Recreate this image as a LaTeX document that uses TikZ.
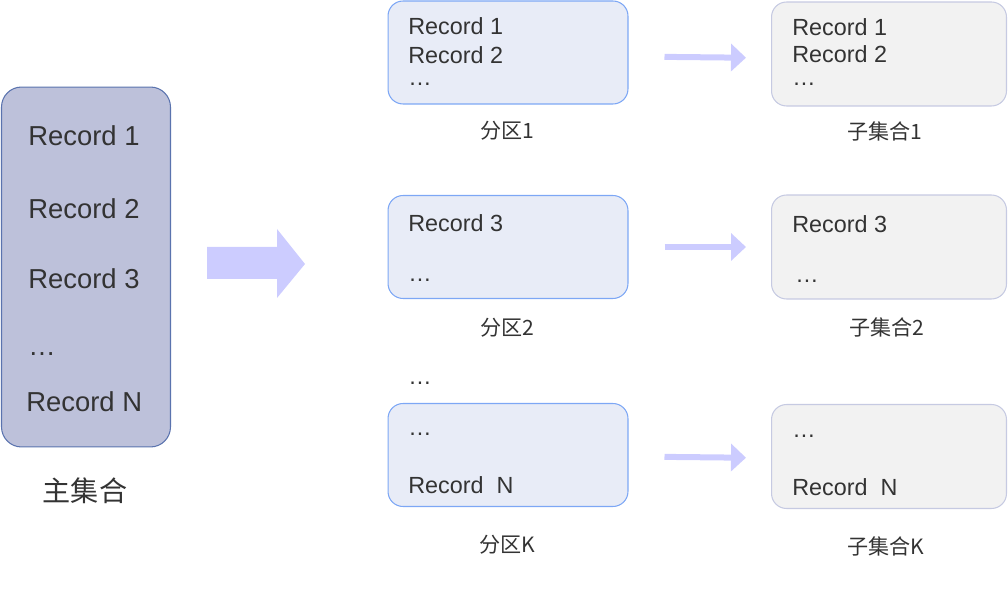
\documentclass[tikz,border=0pt]{standalone}
\usepackage{fontspec}
\setmainfont{Liberation Sans}
\newfontfamily\cjk{Noto Sans CJK SC}
\usetikzlibrary{arrows.meta}
\definecolor{mainfill}{HTML}{BDC1DA}
\definecolor{mainline}{HTML}{5A73AE}
\definecolor{partfill}{HTML}{E8ECF7}
\definecolor{partline}{HTML}{7DA7F5}
\definecolor{subfill}{HTML}{F2F2F2}
\definecolor{subline}{HTML}{C6CAE2}
\definecolor{flowcol}{HTML}{CCCCFF}
\definecolor{textgray}{HTML}{333333}
\begin{document}
\begin{tikzpicture}[x=0.02cm, y=-0.02cm,%
% common options for the boxes:
mainbox/.style = {draw=mainline, fill=mainfill, rounded corners=0.4cm,
            minimum width=3.38cm, minimum height=7.2cm, inner sep=0, line width=0.6pt},
partbox/.style = {draw=partline, fill=partfill, rounded corners=0.3cm,
            minimum width=4.8cm, minimum height=2.06cm, inner sep=0, line width=0.6pt},
subbox/.style = {draw=subline, fill=subfill, rounded corners=0.3cm,
            minimum width=4.7cm, minimum height=2.08cm, inner sep=0, line width=0.6pt},
% common options for the texts:
bigrec/.style = {anchor=west, inner sep=0, text=textgray, font=\fontsize{15.6}{18}\selectfont},
rec/.style = {anchor=west, inner sep=0, text=textgray, font=\fontsize{13.3}{15}\selectfont},
caption/.style = {inner sep=0, text=textgray, font=\cjk\fontsize{12}{14}\selectfont},
flow/.style = {draw=flowcol, line width=0.12cm, -{Triangle[length=0.3cm, width=0.54cm]},
            shorten <=0.72cm, shorten >=0.5cm}]
\useasboundingbox (0,0) rectangle (1008,607);
% main set
\node[mainbox] (M) at (86,267) {};
\node[bigrec] (M1) at (28,136) {Record 1};
\node[bigrec] (M2) at (28,209) {Record 2};
\node[bigrec] (M3) at (28,279) {Record 3};
\node[bigrec] (M4) at (28,354) {…};
\node[bigrec] (MN) at (26,402) {Record N};
\node[caption, font=\cjk\fontsize{16}{18}\selectfont] (MC) at (85,491) {主集合};
\fill[flowcol] (207,247) -- (277,247) -- (277,229) -- (305,264)
  -- (277,298) -- (277,279) -- (207,279) -- cycle;
% partitions
\node[partbox] (P1) at (508,52.5) {};
\node[partbox] (P2) at (508,247) {};
\node[partbox] (PK) at (508,455) {};
\node[rec] (P1a) at (408,26) {Record 1};
\node[rec] (P1b) at (408,55) {Record 2};
\node[rec] (P1c) at (408,84) {…};
\node[rec] (P2a) at (408,223) {Record 3};
\node[rec] (P2b) at (408,280) {…};
\node[rec] (Pdots) at (408,383) {…};
\node[rec] (PKa) at (408,434) {…};
\node[rec] (PKb) at (408,485) {Record~~N};
\node[caption] (P1C) at (507,131) {分区1};
\node[caption] (P2C) at (507,328) {分区2};
\node[caption] (PKC) at (507,545) {分区K};
% subsets
\node[subbox] (S1) at (889,54) {};
\node[subbox] (S2) at (889,247) {};
\node[subbox] (SK) at (889,456.5) {};
\node[rec] (S1a) at (792,27) {Record 1};
\node[rec] (S1b) at (792,54) {Record 2};
\node[rec] (S1c) at (792,84) {…};
\node[rec] (S2a) at (792,224) {Record 3};
\node[rec] (S2b) at (795,281) {…};
\node[rec] (SKa) at (792,436) {…};
\node[rec] (SKb) at (792,487) {Record~~N};
\node[caption] (S1C) at (885,131) {子集合1};
\node[caption] (S2C) at (887,327) {子集合2};
\node[caption] (SKC) at (886,546) {子集合K};
\draw[flow] ([yshift=-0.08cm]P1.east) -- ([yshift=-0.08cm]S1.west);
\draw[flow] (P2.east) -- (S2.west);
\draw[flow] ([yshift=-0.03cm]PK.east) -- ([yshift=-0.03cm]SK.west);
\end{tikzpicture}
\end{document}
